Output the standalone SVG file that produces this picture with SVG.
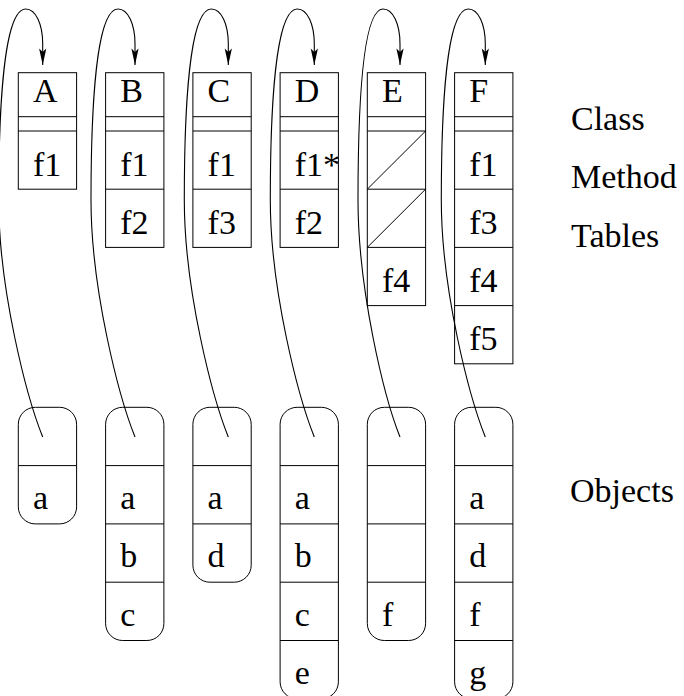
<svg xmlns="http://www.w3.org/2000/svg" width="684" height="696" viewBox="0 0 684 696">
<defs>
<style>
.b{fill:none;stroke:#000;stroke-width:1}
.l{fill:none;stroke:#000;stroke-width:1}
.c{fill:none;stroke:#000;stroke-width:1.1}
text{font-family:"Liberation Serif","Times New Roman",serif;font-size:34px;fill:#000}
</style>
<marker id="ah" viewBox="-17 -5 18 10" markerWidth="18" markerHeight="10" refX="0" refY="0" orient="auto" markerUnits="userSpaceOnUse">
<path d="M0,0 L-16.5,-3.6 L-13,0 L-16.5,3.6 Z" fill="#000"/>
</marker>
</defs>
<rect width="684" height="696" fill="#fff"/>

<g id="connectors">
<path class="c" marker-end="url(#ah)" d="M42.7,437 C26.7,397 -1.3,290 -1.3,200 C-1.3,110 3.7,9 25.7,9 C35.7,9 42.7,24 42.7,44 L42.7,65"/>
<path class="c" marker-end="url(#ah)" d="M135,437 C119,397 91,290 91,200 C91,110 96,9 118,9 C128,9 135,24 135,44 L135,65"/>
<path class="c" marker-end="url(#ah)" d="M228.3,437 C212.3,397 184.3,290 184.3,200 C184.3,110 189.3,9 211.3,9 C221.3,9 228.3,24 228.3,44 L228.3,65"/>
<path class="c" marker-end="url(#ah)" d="M314.3,437 C298.3,397 270.3,290 270.3,200 C270.3,110 275.3,9 297.3,9 C307.3,9 314.3,24 314.3,44 L314.3,65"/>
<path class="c" marker-end="url(#ah)" d="M400,437 C384,397 358,290 358,200 C358,110 362,9 383,9 C393,9 400,24 400,44 L400,65"/>
<path class="c" marker-end="url(#ah)" d="M485.3,437 C469.3,397 441.3,290 441.3,200 C441.3,110 446.3,9 468.3,9 C478.3,9 485.3,24 485.3,44 L485.3,65"/>
</g>

<g id="classA">
<rect class="b" x="18.3" y="72.7" width="58.3" height="116.5"/>
<path class="l" d="M18.3,116.7 H76.6 M18.3,131 H76.6"/>
<text x="33" y="102">A</text>
<text x="33" y="175.5">f1</text>
</g>
<g id="classB">
<rect class="b" x="105.6" y="72.7" width="58.3" height="174.7"/>
<path class="l" d="M105.6,116.7 H163.9 M105.6,131 H163.9 M105.6,189.2 H163.9"/>
<text x="120.3" y="102">B</text>
<text x="120.3" y="175.5">f1</text>
<text x="120.3" y="233.7">f2</text>
</g>
<g id="classC">
<rect class="b" x="192.9" y="72.7" width="58.3" height="174.7"/>
<path class="l" d="M192.9,116.7 H251.2 M192.9,131 H251.2 M192.9,189.2 H251.2"/>
<text x="207.6" y="102">C</text>
<text x="207.6" y="175.5">f1</text>
<text x="207.6" y="233.7">f3</text>
</g>
<g id="classD">
<rect class="b" x="280.1" y="72.7" width="58.3" height="174.7"/>
<path class="l" d="M280.1,116.7 H338.4 M280.1,131 H338.4 M280.1,189.2 H338.4"/>
<text x="294.8" y="102">D</text>
<text x="294.8" y="175.5">f1*</text>
<text x="294.8" y="233.7">f2</text>
</g>
<g id="classE">
<rect class="b" x="367.3" y="72.7" width="58.3" height="232.9"/>
<path class="l" d="M367.3,116.7 H425.6 M367.3,131 H425.6 M367.3,189.2 H425.6 M367.3,247.4 H425.6 M367.3,189.2 L425.6,131 M367.3,247.4 L425.6,189.2"/>
<text x="382" y="102">E</text>
<text x="382" y="291.9">f4</text>
</g>
<g id="classF">
<rect class="b" x="454.6" y="72.7" width="58.3" height="291.1"/>
<path class="l" d="M454.6,116.7 H512.9 M454.6,131 H512.9 M454.6,189.2 H512.9 M454.6,247.4 H512.9 M454.6,305.6 H512.9"/>
<text x="469.3" y="102">F</text>
<text x="469.3" y="175.5">f1</text>
<text x="469.3" y="233.7">f3</text>
<text x="469.3" y="291.9">f4</text>
<text x="469.3" y="350.1">f5</text>
</g>

<g id="objA">
<rect class="b" x="18.3" y="407.3" width="58.3" height="116.6" rx="17"/>
<path class="l" d="M18.3,465.6 H76.6"/>
<text x="33" y="509">a</text>
</g>
<g id="objB">
<rect class="b" x="105.6" y="407.3" width="58.3" height="233.2" rx="17"/>
<path class="l" d="M105.6,465.6 H163.9 M105.6,523.9 H163.9 M105.6,582.2 H163.9"/>
<text x="120.3" y="509">a</text>
<text x="120.3" y="567.3">b</text>
<text x="120.3" y="625.6">c</text>
</g>
<g id="objC">
<rect class="b" x="192.9" y="407.3" width="58.3" height="174.9" rx="17"/>
<path class="l" d="M192.9,465.6 H251.2 M192.9,523.9 H251.2"/>
<text x="207.6" y="509">a</text>
<text x="207.6" y="567.3">d</text>
</g>
<g id="objD">
<rect class="b" x="280.1" y="407.3" width="58.3" height="291.5" rx="17"/>
<path class="l" d="M280.1,465.6 H338.4 M280.1,523.9 H338.4 M280.1,582.2 H338.4 M280.1,640.5 H338.4"/>
<text x="294.8" y="509">a</text>
<text x="294.8" y="567.3">b</text>
<text x="294.8" y="625.6">c</text>
<text x="294.8" y="683.9">e</text>
</g>
<g id="objE">
<rect class="b" x="367.3" y="407.3" width="58.3" height="233.2" rx="17"/>
<path class="l" d="M367.3,465.6 H425.6 M367.3,523.9 H425.6 M367.3,582.2 H425.6"/>
<text x="382" y="625.6">f</text>
</g>
<g id="objF">
<rect class="b" x="454.6" y="407.3" width="58.3" height="291.5" rx="17"/>
<path class="l" d="M454.6,465.6 H512.9 M454.6,523.9 H512.9 M454.6,582.2 H512.9 M454.6,640.5 H512.9"/>
<text x="469.3" y="509">a</text>
<text x="469.3" y="567.3">d</text>
<text x="469.3" y="625.6">f</text>
<text x="469.3" y="683.9">g</text>
</g>

<g id="labels">
<text x="571" y="130">Class</text>
<text x="571" y="188">Method</text>
<text x="571" y="246.5">Tables</text>
<text x="570" y="502">Objects</text>
</g>
</svg>
